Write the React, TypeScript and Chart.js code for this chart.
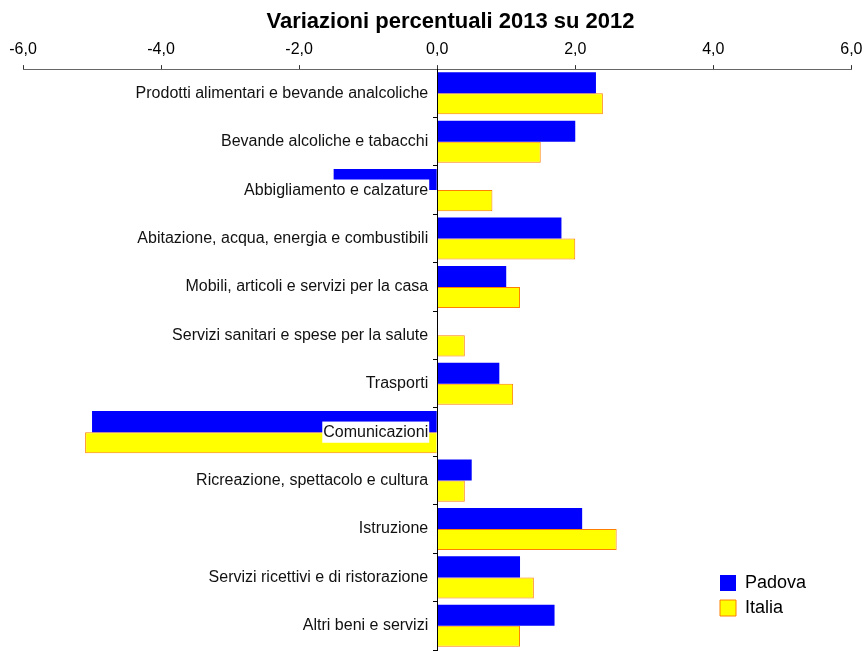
import React, { useEffect, useRef } from "react";
import { Chart, registerables } from "chart.js";

Chart.register(...registerables);

const chartTitle = "Variazioni percentuali 2013 su 2012";
const seriesNames = ["Padova", "Italia"];
const categories = [
  "Prodotti alimentari e bevande analcoliche",
  "Bevande alcoliche e tabacchi",
  "Abbigliamento e calzature",
  "Abitazione, acqua, energia e combustibili",
  "Mobili, articoli e servizi per la casa",
  "Servizi sanitari e spese per la salute",
  "Trasporti",
  "Comunicazioni",
  "Ricreazione, spettacolo e cultura",
  "Istruzione",
  "Servizi ricettivi e di ristorazione",
  "Altri beni e servizi",
];
const padovaValues = [2.3, 2.0, -1.5, 1.8, 1.0, 0, 0.9, -5.0, 0.5, 2.1, 1.2, 1.7];
const italiaValues = [2.4, 1.5, 0.8, 2.0, 1.2, 0.4, 1.1, -5.1, 0.4, 2.6, 1.4, 1.2];
const xMin = -6;
const xMax = 6;
const xStep = 2;

const FONT = "'Liberation Sans', Arial, sans-serif";
const LABEL_ANCHOR = -0.13; // where category labels end (just left of the zero line)

export default function App() {
  const ref = useRef<HTMLCanvasElement>(null);

  useEffect(() => {
    if (!ref.current) return;
    const layoutTweaks = {
      id: "layoutTweaks",
      afterLayout(chart: any) {
        const l = chart.legend;
        if (l) {
          l.left = 713;
          l.top = 567;
          l.right = l.left + l.width;
          l.bottom = l.top + l.height;
        }
        const t = chart.titleBlock;
        if (t) {
          t.left += 26;
        }
      },
    };
    const noPad = (scale: any) => {
      scale.paddingTop = 0;
      scale.paddingBottom = 0;
    };
    const chart = new Chart(ref.current, {
      type: "bar",
      data: {
        labels: categories,
        datasets: [
          {
            label: seriesNames[0],
            data: padovaValues,
            backgroundColor: "#0000FF",
            borderColor: "#0000FF",
            borderWidth: 0,
          },
          {
            label: seriesNames[1],
            data: italiaValues,
            backgroundColor: "#FFFF00",
            borderColor: "#FF8000",
            borderWidth: 1,
          },
        ],
      },
      options: {
        indexAxis: "y",
        responsive: false,
        animation: false,
        layout: { padding: { left: 23, right: 16, top: 0, bottom: 3 } },
        datasets: { bar: { categoryPercentage: 0.87, barPercentage: 1 } },
        scales: {
          x: {
            position: "top",
            min: xMin,
            max: xMax,
            ticks: {
              stepSize: xStep,
              callback: (v: any) => Number(v).toFixed(1).replace(".", ","),
              font: { family: FONT, size: 16 },
              color: "#000",
              padding: 5.5,
            },
            grid: { drawOnChartArea: false, tickLength: 4, color: "#333" },
            border: { color: "#666", width: 1 },
          },
          y: {
            type: "category",
            position: { x: LABEL_ANCHOR } as any,
            offset: true,
            afterFit: noPad,
            ticks: {
              z: 1,
              font: { family: FONT, size: 16 },
              color: "#111",
              padding: 0,
              showLabelBackdrop: true,
              backdropColor: "#FFFFFF",
              backdropPadding: 1,
            } as any,
            grid: { display: false, drawTicks: false },
            border: { display: false },
          },
          y2: {
            type: "category",
            position: { x: 0 } as any,
            offset: true,
            afterFit: noPad,
            ticks: { display: false, padding: 0 },
            grid: { drawOnChartArea: false, drawTicks: true, tickLength: 4, offset: true, color: "#000" },
            border: { display: true, color: "#000", width: 1, z: 1 },
          },
        },
        plugins: {
          title: {
            display: true,
            text: chartTitle,
            color: "#000",
            font: { family: FONT, size: 22, weight: "bold" },
            padding: { top: 9, bottom: -0.5 },
          },
          legend: {
            position: "chartArea",
            align: "start",
            padding: 0,
            labels: {
              font: { family: FONT, size: 18 },
              color: "#000",
              boxWidth: 16,
              boxHeight: 16,
              padding: 7,
            },
          } as any,
          tooltip: { enabled: false },
        },
      },
      plugins: [layoutTweaks],
    } as any);
    return () => chart.destroy();
  }, []);

  return (
    <div style={{ position: "absolute", left: 0, top: 0, width: 868, height: 653, background: "#fff" }}>
      <canvas ref={ref} width={868} height={653} />
    </div>
  );
}
